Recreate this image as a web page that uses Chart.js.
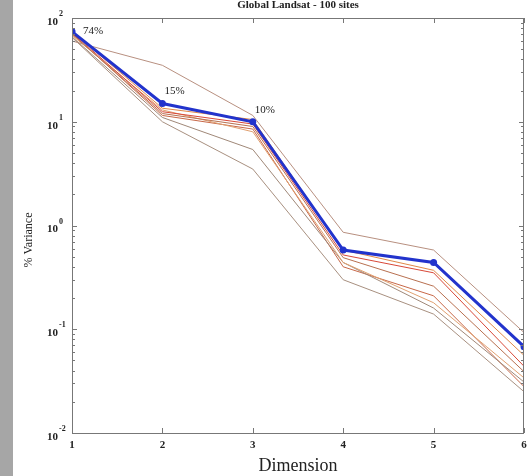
<!DOCTYPE html>
<html>
<head>
<meta charset="utf-8">
<script src="https://cdn.jsdelivr.net/npm/chart.js@4.4.1/dist/chart.umd.min.js"></script>
<style>
  html, body { margin: 0; padding: 0; background: #fff; }
  canvas { display: block; }
</style>
</head>
<body>
<canvas id="chart" width="528" height="476"></canvas>
<script>
// x categories (dimension number)
const dimensions = [1, 2, 3, 4, 5, 6];
const xTickLabels = ["1", "2", "3", "4", "5", "6"];

// mean curve (% variance)
const meanVariance = [74, 15, 10, 0.58, 0.44, 0.068];
const meanLabels = ["74%", "15%", "10%"];

// individual curves
const siteA = [60, 35, 11.5, 0.86, 0.58, 0.093];
const siteB = [74, 13.5, 10.5, 0.58, 0.37, 0.056];
const siteC = [72, 12.5, 9.5, 0.52, 0.35, 0.044];
const siteD = [70, 12, 9, 0.49, 0.26, 0.039];
const siteE = [68, 13, 8, 0.44, 0.18, 0.034];
const siteF = [66, 11, 5.4, 0.44, 0.16, 0.031];
const siteG = [65, 10, 3.5, 0.30, 0.14, 0.025];
const siteH = [71, 11.5, 8.5, 0.40, 0.21, 0.028];
const siteColors = ["#b89080", "#e08848", "#d84838", "#b87050", "#e0a070", "#a08878", "#a89080", "#c86848"];

// y ticks (log) and their exponents
const yTicks = [0.01, 0.1, 1, 10, 100];
const yTickExponents = ["-2", "-1", "0", "1", "2"];

const toPoints = (vals) => vals.map((v, i) => ({ x: dimensions[i], y: v }));

const sites = [siteA, siteB, siteC, siteD, siteE, siteF, siteG, siteH];
const datasets = [
  {
    data: toPoints(meanVariance),
    borderColor: "#2233cc",
    backgroundColor: "#2233cc",
    borderWidth: 3,
    pointRadius: 3.5,
    pointBorderWidth: 0,
  },
];
sites.forEach((s, i) => {
  datasets.push({
    data: toPoints(s),
    borderColor: siteColors[i],
    borderWidth: 1,
    pointRadius: 0,
  });
});

const serif = '"Liberation Serif", "DejaVu Serif", serif';

const frame = {
  id: "frame",
  beforeDraw(chart) {
    const ctx = chart.ctx;
    ctx.save();
    ctx.fillStyle = "#ffffff";
    ctx.fillRect(0, 0, chart.width, chart.height);
    ctx.fillStyle = "#a6a6a6";
    ctx.fillRect(0, 0, 13, chart.height);
    ctx.restore();
  },
  afterDraw(chart) {
    const ctx = chart.ctx;
    const a = chart.chartArea;
    const xs = chart.scales.x;
    const ys = chart.scales.y;
    ctx.save();
    ctx.strokeStyle = "#777777";
    ctx.lineWidth = 1;
    ctx.strokeRect(a.left + 0.5, a.top + 0.5, a.right - a.left - 1, a.bottom - a.top);

    // x ticks
    ctx.beginPath();
    dimensions.forEach((d) => {
      const px = Math.round(xs.getPixelForValue(d)) + 0.5;
      ctx.moveTo(px, a.bottom);
      ctx.lineTo(px, a.bottom - 5);
      ctx.moveTo(px, a.top);
      ctx.lineTo(px, a.top + 5);
    });
    // y major + minor ticks
    yTicks.forEach((t, i) => {
      const py = Math.round(ys.getPixelForValue(t)) + 0.5;
      ctx.moveTo(a.left, py);
      ctx.lineTo(a.left + 5, py);
      ctx.moveTo(a.right, py);
      ctx.lineTo(a.right - 5, py);
      if (i < yTicks.length - 1) {
        for (let k = 2; k <= 9; k++) {
          const my = Math.round(ys.getPixelForValue(t * k)) + 0.5;
          ctx.moveTo(a.left, my);
          ctx.lineTo(a.left + 3, my);
          ctx.moveTo(a.right, my);
          ctx.lineTo(a.right - 3, my);
        }
      }
    });
    ctx.stroke();

    ctx.fillStyle = "#222222";
    // x tick labels
    ctx.font = "bold 11px " + serif;
    ctx.textAlign = "center";
    ctx.textBaseline = "middle";
    xTickLabels.forEach((l, i) => {
      ctx.fillText(l, xs.getPixelForValue(dimensions[i]), a.bottom + 12);
    });
    // y tick labels 10^n
    yTicks.forEach((t, i) => {
      const py = ys.getPixelForValue(t);
      ctx.font = "bold 11px " + serif;
      ctx.textAlign = "right";
      ctx.textBaseline = "middle";
      ctx.fillText("10", a.left - 14, py + 4);
      ctx.font = "bold 8px " + serif;
      ctx.textAlign = "left";
      ctx.fillText(yTickExponents[i], a.left - 13, py - 4);
    });

    // annotations
    ctx.font = "11px " + serif;
    ctx.textAlign = "left";
    ctx.textBaseline = "middle";
    meanLabels.forEach((l, i) => {
      const px = xs.getPixelForValue(dimensions[i]);
      const py = ys.getPixelForValue(meanVariance[i]);
      const dy = i === 0 ? 0 : -12;
      ctx.fillText(l, px + (i === 0 ? 11 : 2), py + dy);
    });

    // title
    ctx.font = "bold 11px " + serif;
    ctx.textAlign = "center";
    ctx.fillText("Global Landsat - 100 sites", 298, 5);

    // axis titles
    ctx.font = "18px " + serif;
    ctx.fillText("Dimension", 298, 466);
    ctx.save();
    ctx.translate(29, 240);
    ctx.rotate(-Math.PI / 2);
    ctx.font = "12px " + serif;
    ctx.fillText("% Variance", 0, 0);
    ctx.restore();
    ctx.restore();
  },
};

new Chart(document.getElementById("chart"), {
  type: "line",
  data: { datasets: datasets },
  options: {
    responsive: false,
    animation: false,
    layout: { padding: { left: 72, right: 0, top: 18, bottom: 43 } },
    plugins: { legend: { display: false }, tooltip: { enabled: false } },
    elements: { line: { tension: 0 } },
    scales: {
      x: { type: "linear", min: 1, max: 6, display: false },
      y: { type: "logarithmic", min: 0.01, max: 100, display: false },
    },
  },
  plugins: [frame],
});
</script>
</body>
</html>
